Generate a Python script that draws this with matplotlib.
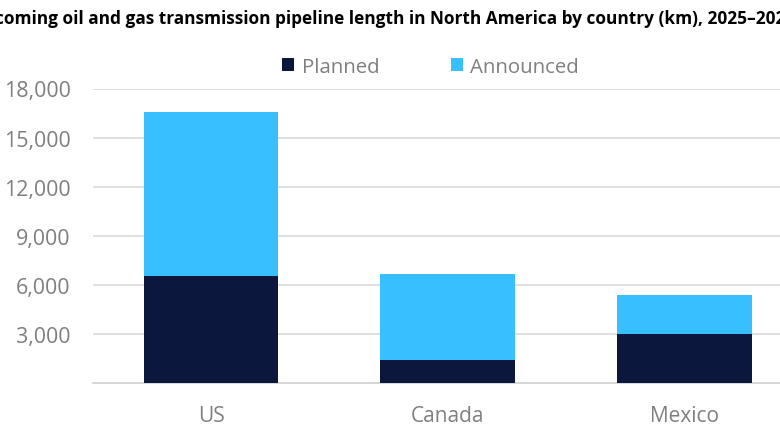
import numpy as np
import matplotlib
matplotlib.use("Agg")
import matplotlib.pyplot as plt

countries = ["US", "Canada", "Mexico"]
planned = [6550, 1390, 2980]
announced = [10010, 5260, 2390]
yticks = [3000, 6000, 9000, 12000, 15000, 18000]

W, H = 780, 435
plt.rcParams["font.family"] = ["Open Sans", "DejaVu Sans"]

fig = plt.figure(figsize=(W / 100, H / 100), dpi=100)
# the axes run past the right edge, the image is cropped there
left, right, bottom, top = 92.7, 802.7, 383.7, 89.5
ax = fig.add_axes([left / W, 1 - bottom / H, (right - left) / W, (bottom - top) / H])

x = np.arange(len(countries))
ax.bar(x, planned, width=0.57, color="#0c173d", label="Planned", zorder=3)
ax.bar(x, announced, width=0.57, bottom=planned, color="#38bfff", label="Announced", zorder=3)

ax.set_xlim(-0.5, 2.5)
ax.set_ylim(0, 18000)
ax.set_yticks(yticks)
ax.set_yticklabels([f"{v:,}" for v in yticks])
ax.set_xticks(x)
ax.set_xticklabels(countries)
ax.tick_params(axis="x", length=0, labelsize=15, labelcolor="#7f7f7f", pad=16)
ax.tick_params(axis="y", length=0, labelsize=15.4, labelcolor="#7f7f7f", pad=16)
ax.grid(axis="y", color="#d9d9d9", linewidth=1.2, zorder=0)
for s in ["top", "right", "left"]:
    ax.spines[s].set_visible(False)
ax.spines["bottom"].set_color("#d0d0d0")
ax.spines["bottom"].set_linewidth(1.2)

# title is cut off on both sides in the original
fig.text(383 / W, 1 - 19 / H,
         "Upcoming oil and gas transmission pipeline length in North America by country (km), 2025\u20132028",
         ha="center", va="center", fontsize=12.45, fontweight="bold", color="black")

leg = fig.legend(loc="center", bbox_to_anchor=(430.5 / W, 1 - 68 / H), ncol=2, frameon=False,
                 fontsize=14.7, labelcolor="#7f7f7f", handlelength=0.6, handleheight=0.6,
                 handletextpad=0.36, columnspacing=3.5)

fig.savefig("out.png", dpi=100)
